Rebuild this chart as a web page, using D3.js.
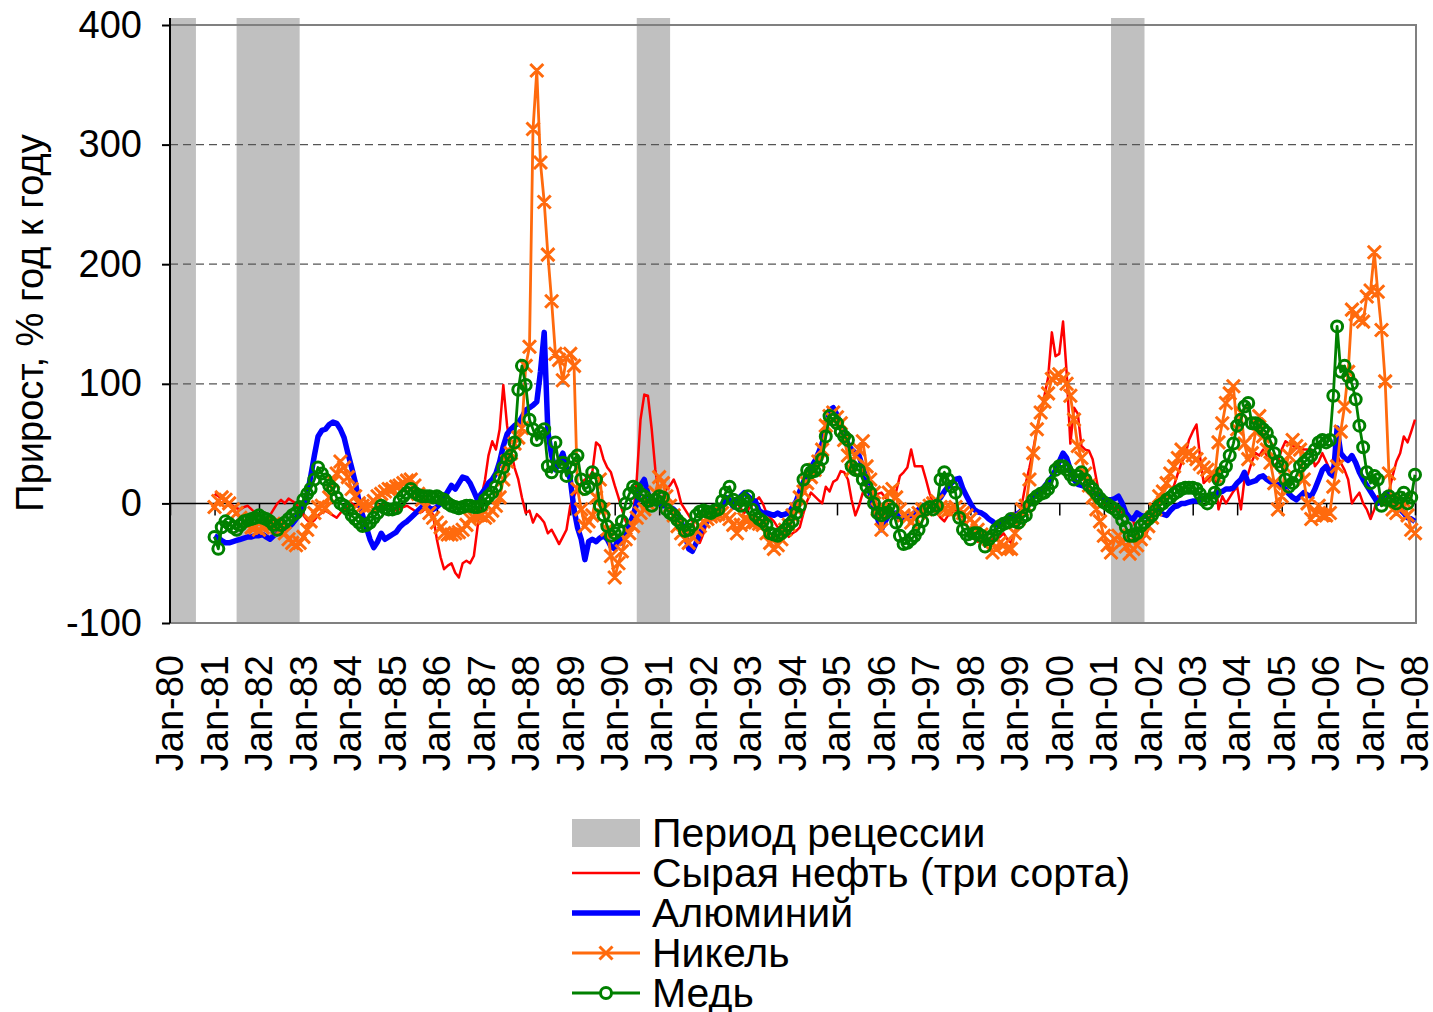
<!DOCTYPE html>
<html><head><meta charset="utf-8">
<script src="https://cdn.jsdelivr.net/npm/d3@7"></script>
<style>body{margin:0;background:#fff}svg{display:block}text{font-family:"Liberation Sans",Arial,sans-serif}</style>
</head><body><svg id="c" width="1433" height="1012"></svg>
<script>
// Monthly data Jan-1981 .. Jan-2008 (year-on-year growth, %)
const startMonth = "1981-01";
const oil = [
 8,6,4,2,0,-2,-4,-5,-3,-2,-5,-8,
 -10,-12,-15,-10,-5,0,3,0,4,2,0,-5,
 -10,-14,-16,-14,-10,-8,-6,-8,-10,-12,-8,-5,
 -3,0,-2,-3,-1,0,-2,-4,-3,-2,0,-2,
 -4,-6,-5,-3,-2,-4,-6,-8,-7,-4,-2,-10,
 -30,-45,-55,-52,-50,-58,-62,-50,-48,-50,-44,-20,
 5,20,40,52,45,62,99,65,45,30,20,5,
 -8,-6,-16,-9,-12,-16,-25,-22,-28,-34,-28,-22,
 -2,6,12,17,20,22,26,51,48,37,30,26,
 15,5,-5,-15,-20,-10,20,70,91,90,62,28,
 6,5,12,15,20,12,0,-5,-10,-15,-25,-33,
 -25,-15,-10,-8,-3,0,2,0,-2,0,-4,-8,
 -5,-2,2,5,0,-8,-12,-15,-20,-20,-25,-28,
 -25,-23,-20,-8,2,9,6,3,0,14,10,18,
 20,27,26,20,3,-10,-2,9,6,5,7,8,
 9,5,3,0,10,23,26,30,45,31,31,31,
 20,8,0,-8,-12,-15,-10,-8,-5,-8,-12,-18,
 -25,-30,-32,-30,-28,-32,-30,-30,-28,-25,-30,-33,
 -25,-12,0,17,30,45,62,76,90,105,143,123,
 125,152,110,50,80,75,48,45,44,37,20,5,
 0,-2,-5,-3,-5,-8,-10,-12,-15,-25,-30,-28,
 -22,-12,-5,0,5,8,10,15,25,34,40,53,
 60,66,40,17,20,23,28,-5,6,0,5,10,
 14,-5,20,25,35,42,40,45,40,38,31,35,
 45,52,50,48,46,47,45,45,45,31,35,42,
 35,28,32,40,34,28,20,0,5,9,0,-5,
 -13,-5,6,-2,0,10,23,35,42,56,51,60,
 70];
const aluminium = [
 -27,-29,-31,-33,-33,-32,-31,-30,-29,-28,-28,-27,
 -27,-26,-28,-30,-27,-25,-24,-22,-20,-17,-13,-8,
 -3,8,22,40,56,61,62,66,68,67,62,55,
 42,30,18,2,-10,-20,-30,-37,-32,-25,-30,-28,
 -26,-24,-20,-17,-15,-12,-9,-6,-3,-2,-4,-5,
 -3,0,5,10,15,12,17,22,21,17,10,3,
 8,12,17,20,25,35,48,58,62,65,67,72,
 78,80,82,85,110,143,60,40,28,35,42,30,
 20,-5,-20,-30,-47,-32,-30,-32,-29,-27,-30,-36,
 -38,-28,-33,-25,-18,-10,0,15,20,8,3,2,
 0,-2,-2,-3,-5,-8,-15,-25,-38,-40,-33,-25,
 -19,-15,-12,-10,-6,-2,5,3,-3,2,6,9,
 6,3,2,-6,-8,-8,-9,-10,-8,-10,-9,-8,
 -3,2,10,18,25,30,35,42,50,62,78,80,
 74,65,56,50,45,42,40,30,20,8,-5,-13,
 -22,-15,-10,-9,-8,-13,-12,-11,-10,-8,-5,-2,
 -3,-2,0,2,5,10,14,17,20,21,12,6,
 0,-5,-7,-8,-10,-13,-15,-18,-17,-15,-13,-11,
 -10,-8,-6,-5,0,5,8,11,14,18,22,28,
 35,42,38,28,20,16,15,14,12,10,8,6,
 4,3,3,4,6,0,-8,-12,-13,-8,-10,-11,
 -9,-7,-5,-7,-9,-10,-6,-3,-2,0,0,1,
 2,2,3,4,6,7,8,9,10,12,12,13,
 17,20,26,17,18,19,22,23,20,18,17,16,
 14,12,8,5,3,6,9,7,6,12,20,28,
 31,25,23,63,42,38,36,40,34,26,20,15,
 10,5,0,4,8,9,4,-2,-5,-8,-12,-13,
 -15];
const nickel = [
 -3,2,5,3,0,-5,-8,-12,-15,-18,-20,-20,
 -22,-20,-18,-18,-17,-20,-22,-25,-30,-33,-35,-33,
 -28,-22,-15,-8,-3,-2,-4,5,18,25,35,30,
 22,12,6,0,-2,-3,-2,2,6,8,10,12,
 12,14,15,17,19,20,15,8,3,-3,-8,-12,
 -16,-20,-25,-26,-26,-25,-24,-22,-18,-13,-12,-10,
 -10,-12,-10,-6,-2,5,20,35,42,50,55,63,
 115,131,313,362,285,252,208,169,125,120,103,122,
 125,115,12,-5,-19,-15,-10,5,20,-5,-22,-44,
 -62,-50,-40,-30,-25,-19,-12,-8,-5,0,5,9,
 22,17,6,-2,-10,-19,-25,-30,-33,-28,-22,-19,
 -15,-13,-11,-10,-9,-8,-10,-13,-18,-25,-18,-13,
 -14,-16,-16,-17,-18,-25,-33,-38,-35,-30,-22,-18,
 -10,-5,5,10,17,22,28,35,45,65,73,76,
 72,67,53,40,28,40,45,52,31,20,9,-5,
 -22,-5,9,12,5,-5,-10,-12,-16,-12,-8,-5,
 -5,-2,0,2,-3,-5,-6,-5,-3,-6,-8,-10,
 -13,-17,-22,-26,-28,-30,-41,-38,-33,-35,-38,-38,
 -25,-13,-5,-2,20,42,62,76,85,92,104,106,
 108,104,100,90,70,48,38,25,15,5,-5,-15,
 -27,-35,-41,-30,-27,-32,-36,-42,-38,-35,-30,-25,
 -19,-12,-5,6,10,17,25,31,38,45,40,42,
 40,37,33,30,28,25,23,51,67,84,92,98,
 62,76,50,37,42,60,73,56,45,34,17,-5,
 6,30,40,53,48,45,20,0,-13,-8,-2,-10,
 -10,-8,14,31,60,81,110,162,158,154,152,173,
 178,210,177,145,102,25,-5,-8,-5,2,-10,-22,
 -25];
const copper = [
 -28,-38,-20,-15,-17,-20,-22,-18,-15,-14,-13,-12,
 -10,-12,-13,-15,-18,-22,-18,-16,-13,-10,-8,-3,
 3,8,12,20,30,25,20,15,12,5,0,-2,
 -5,-10,-13,-16,-19,-18,-16,-12,-8,-2,-4,-5,
 -5,-4,2,6,9,12,9,7,6,6,6,5,
 6,4,3,0,-2,-3,-4,-3,-2,-2,-3,-3,
 -2,3,6,9,14,22,30,37,40,51,95,115,
 99,70,62,53,59,62,31,26,51,31,34,23,
 30,37,40,20,12,14,26,20,-2,-10,-19,-27,
 -25,-22,-15,0,8,14,12,8,6,2,-2,3,
 6,5,-5,-8,-10,-14,-17,-23,-22,-18,-10,-7,
 -6,-7,-8,-6,-5,2,9,14,3,0,-2,3,
 6,-5,-10,-13,-15,-18,-25,-26,-27,-25,-22,-18,
 -15,-8,-2,20,28,26,27,30,37,56,73,70,
 67,60,56,53,31,28,28,20,14,9,0,-8,
 -10,-8,-2,-5,-16,-27,-34,-33,-30,-27,-22,-15,
 -5,-3,-5,-2,20,26,20,14,9,-12,-22,-26,
 -30,-25,-25,-27,-36,-30,-27,-22,-19,-17,-16,-13,
 -15,-16,-12,-10,-2,3,6,8,9,12,17,28,
 31,31,28,24,20,23,26,20,15,12,8,4,
 1,-1,-3,-5,-8,-14,-20,-27,-27,-25,-19,-16,
 -13,-10,-6,-2,0,3,5,8,10,12,13,13,
 13,12,8,3,0,4,9,20,26,31,40,50,
 65,70,81,84,67,67,65,62,59,52,42,35,
 31,20,14,17,23,31,34,37,40,45,51,53,
 51,53,90,148,110,115,106,100,87,65,47,26,
 17,23,20,-2,3,6,2,0,5,9,0,5,
 24];
const recessions = [["1980-01","1980-08"],["1981-07","1982-12"],["1990-07","1991-04"],["2001-03","2001-12"]];
const yTicks = [-100,0,100,200,300,400];
const xTickYears = d3.range(1980, 2009);
const seriesNames = ["Сырая нефть (три сорта)","Алюминий","Никель","Медь"];
const recessionName = "Период рецессии";
const yTitle = "Прирост, % год к году";

const parseM = d3.timeParse("%Y-%m");
const svg = d3.select("#c");
const L=170, R=1415, T=25, B=623, bandTop=18;
const x = d3.scaleTime().domain([new Date(1980,0,1), new Date(2008,0,1)]).range([L,R]);
const y = d3.scaleLinear().domain([-100,400]).range([B,T]);
const dates = d3.range(oil.length).map(i => d3.timeMonth.offset(parseM(startMonth), i));
const FS = 38, LFS = 41;

// recession bands
svg.append("g").selectAll("rect").data(recessions).join("rect")
  .attr("x", d=>x(parseM(d[0]))).attr("width", d=>x(parseM(d[1]))-x(parseM(d[0])))
  .attr("y", bandTop).attr("height", B-bandTop).attr("fill","#c0c0c0");

// gridlines
svg.append("g").selectAll("line").data(yTicks.filter(v=>v>0 && v<400)).join("line")
  .attr("x1",L).attr("x2",R).attr("y1",d=>y(d)).attr("y2",d=>y(d))
  .attr("stroke","#555").attr("stroke-width",1.2).attr("stroke-dasharray","8,5");

// frame
svg.append("path").attr("d",`M${L},${T}H${R+1}V${B}H${L}`).attr("fill","none").attr("stroke","#808080").attr("stroke-width",2);

// y axis
const ya = svg.append("g").attr("transform",`translate(${L},0)`).call(d3.axisLeft(y).tickValues(yTicks).tickSize(8).tickPadding(20).tickFormat(d=>String(d)));
ya.select(".domain").attr("stroke","#000").attr("stroke-width",2).attr("d",`M0,${bandTop}V${B}`);
ya.selectAll(".tick line").attr("stroke","#000").attr("stroke-width",2);
ya.selectAll("text").attr("font-size",FS).attr("fill","#000").attr("font-family","Liberation Sans, Arial, sans-serif");

// x axis at zero
const xa = svg.append("g").attr("transform",`translate(0,${y(0)})`)
  .call(d3.axisBottom(x).tickValues(xTickYears.map(yy=>new Date(yy,0,1))).tickSize(12).tickFormat(""));
xa.select(".domain").attr("stroke","#000").attr("stroke-width",1.5).attr("d",`M${L},0H${R}`);
xa.selectAll(".tick line").attr("stroke","#000").attr("stroke-width",1.5);

// x labels
const fmt = d3.timeFormat("%b-%y");
svg.append("g").selectAll("text").data(xTickYears).join("text")
  .attr("transform", d=>`translate(${x(new Date(d,0,1))},655) rotate(-90)`)
  .attr("dy","0.35em").attr("text-anchor","end").attr("font-size",FS).text(d=>fmt(new Date(d,0,1)));

// y title
svg.append("text").attr("transform","translate(30,323) rotate(-90)").attr("dy","0.35em")
  .attr("text-anchor","middle").attr("font-size",FS).text(yTitle);

const line = vals => d3.line().x((d,i)=>x(dates[i])).y(d=>y(d))(vals);
const g = svg.append("g");
g.append("path").attr("d",line(oil)).attr("fill","none").attr("stroke","#ff0000").attr("stroke-width",2.5).attr("stroke-linejoin","round");
g.append("path").attr("d",line(aluminium)).attr("fill","none").attr("stroke","#0000ff").attr("stroke-width",5.5).attr("stroke-linejoin","round");
g.append("path").attr("d",line(nickel)).attr("fill","none").attr("stroke","#ff6a0d").attr("stroke-width",2.8).attr("stroke-linejoin","round");
const xm = (cx,cy,s)=>`M${cx-s},${cy-s}L${cx+s},${cy+s}M${cx-s},${cy+s}L${cx+s},${cy-s}`;
g.append("path").attr("d", nickel.map((v,i)=>xm(x(dates[i]),y(v),6.5)).join("")).attr("stroke","#ff6a0d").attr("stroke-width",3).attr("fill","none");
g.append("path").attr("d",line(copper)).attr("fill","none").attr("stroke","#008000").attr("stroke-width",2.8).attr("stroke-linejoin","round");
g.append("g").selectAll("circle").data(copper).join("circle")
  .attr("cx",(d,i)=>x(dates[i])).attr("cy",d=>y(d)).attr("r",5.5)
  .attr("fill","none").attr("stroke","#008000").attr("stroke-width",3);

// legend
const lg = svg.append("g");
const lx1=572, lx2=640, tx=652, ly0=833, dy=40;
lg.append("rect").attr("x",lx1).attr("y",ly0-14).attr("width",lx2-lx1).attr("height",28).attr("fill","#c0c0c0");
const styles = [{c:"#ff0000",w:2.5},{c:"#0000ff",w:5.5},{c:"#ff6a0d",w:3,m:"x"},{c:"#008000",w:3,m:"o"}];
styles.forEach((s,k)=>{
  const yy = ly0+dy*(k+1);
  lg.append("line").attr("x1",lx1).attr("x2",lx2).attr("y1",yy).attr("y2",yy).attr("stroke",s.c).attr("stroke-width",s.w);
  if(s.m==="x") lg.append("path").attr("d",xm((lx1+lx2)/2,yy,6.5)).attr("stroke",s.c).attr("stroke-width",s.w);
  if(s.m==="o") lg.append("circle").attr("cx",(lx1+lx2)/2).attr("cy",yy).attr("r",5.5).attr("fill","#fff").attr("stroke",s.c).attr("stroke-width",s.w);
});
[recessionName].concat(seriesNames).forEach((t,k)=>{
  lg.append("text").attr("x",tx).attr("y",ly0+dy*k).attr("dy","0.35em").attr("font-size",LFS).text(t);
});
</script></body></html>
